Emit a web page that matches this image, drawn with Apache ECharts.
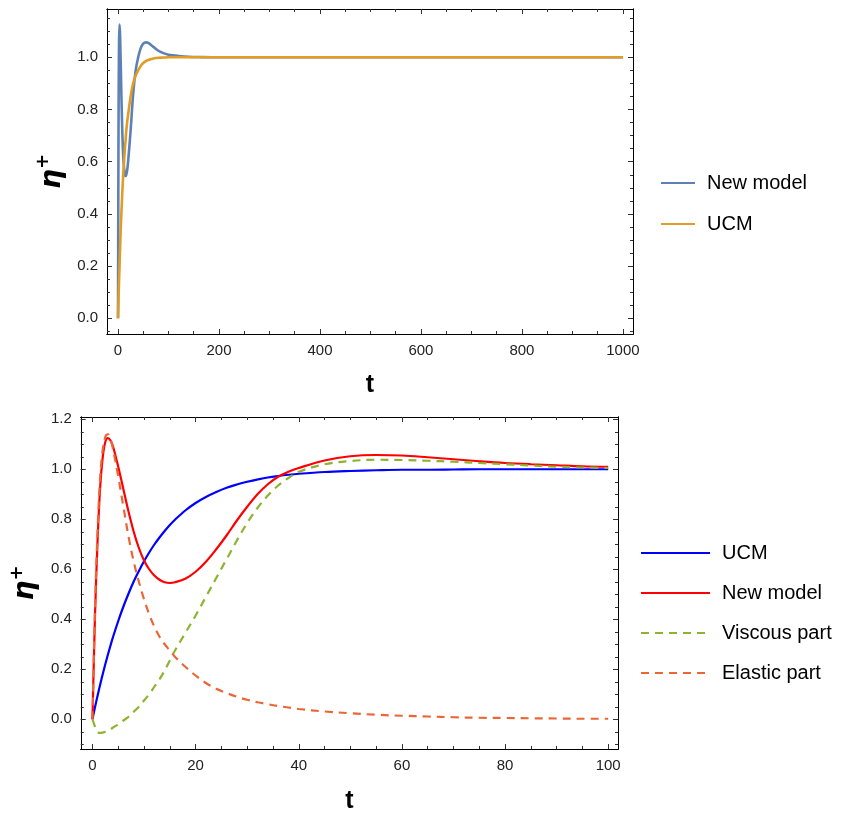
<!DOCTYPE html>
<html>
<head>
<meta charset="utf-8">
<script src="https://cdn.jsdelivr.net/npm/echarts@6/dist/echarts.min.js"></script>
<style>
  html, body { margin: 0; padding: 0; background: #fff; }
  #chart { width: 847px; height: 817px; }
</style>
</head>
<body>
<div id="chart"></div>
<script>
// 위쪽 패널 (t: 0 ~ 1000)
const tTop = [0, 1, 2, 3, 4, 5, 6, 8, 10, 12, 14, 15, 16, 18, 20, 25, 30, 35, 40, 45, 50, 55, 60, 70, 80, 90, 100, 120, 140, 160, 200, 400, 600, 800, 1000];
const newTop = [0, 0.72, 1.05, 1.125, 1.09, 1.01, 0.92, 0.75, 0.635, 0.575, 0.548, 0.545, 0.548, 0.565, 0.6, 0.72, 0.86, 0.95, 1.0, 1.035, 1.052, 1.057, 1.055, 1.04, 1.025, 1.016, 1.01, 1.005, 1.002, 1.001, 1.0, 1.0, 1.0, 1.0, 1.0];
const ucmTop = [0, 0.07, 0.14, 0.2, 0.26, 0.32, 0.37, 0.46, 0.54, 0.6, 0.66, 0.68, 0.71, 0.75, 0.78, 0.85, 0.9, 0.93, 0.95, 0.967, 0.978, 0.985, 0.99, 0.995, 0.998, 0.999, 1.0, 1.0, 1.0, 1.0, 1.0, 1.0, 1.0, 1.0, 1.0];

// 아래쪽 패널 (t: 0 ~ 100)
const tBot = [0, 0.5, 1, 1.5, 2, 2.5, 3, 3.5, 4, 5, 6, 7, 8, 9, 10, 11, 12, 13, 14, 15, 16, 18, 20, 22, 24, 26, 28, 30, 32, 34, 36, 38, 40, 45, 50, 55, 60, 65, 70, 75, 80, 85, 90, 95, 100];
const ucmBot = [0, 0.049, 0.095, 0.139, 0.181, 0.221, 0.259, 0.295, 0.33, 0.393, 0.451, 0.503, 0.551, 0.593, 0.632, 0.667, 0.699, 0.727, 0.753, 0.777, 0.798, 0.835, 0.865, 0.889, 0.909, 0.926, 0.939, 0.95, 0.959, 0.967, 0.973, 0.978, 0.982, 0.989, 0.993, 0.996, 0.998, 0.998, 0.999, 1.0, 1.0, 1.0, 1.0, 1.0, 1.0];
const newBot = [0, 0.42, 0.72, 0.93, 1.05, 1.11, 1.125, 1.115, 1.09, 1.01, 0.92, 0.83, 0.75, 0.685, 0.635, 0.6, 0.575, 0.558, 0.548, 0.545, 0.548, 0.562, 0.59, 0.63, 0.68, 0.735, 0.795, 0.85, 0.9, 0.94, 0.97, 0.99, 1.005, 1.035, 1.052, 1.057, 1.055, 1.048, 1.04, 1.032, 1.025, 1.02, 1.016, 1.012, 1.01];
const viscousBot = [0, -0.03, -0.05, -0.055, -0.053, -0.05, -0.045, -0.04, -0.033, -0.02, -0.005, 0.01, 0.03, 0.05, 0.075, 0.1, 0.13, 0.16, 0.195, 0.235, 0.275, 0.345, 0.415, 0.49, 0.565, 0.64, 0.715, 0.785, 0.845, 0.895, 0.935, 0.965, 0.99, 1.02, 1.033, 1.038, 1.037, 1.034, 1.03, 1.025, 1.02, 1.015, 1.01, 1.007, 1.005];
const elasticBot = [0, 0.45, 0.76, 0.97, 1.08, 1.13, 1.14, 1.12, 1.08, 0.97, 0.85, 0.73, 0.63, 0.55, 0.48, 0.42, 0.37, 0.33, 0.3, 0.275, 0.25, 0.21, 0.175, 0.145, 0.122, 0.105, 0.09, 0.078, 0.068, 0.06, 0.053, 0.047, 0.041, 0.031, 0.024, 0.018, 0.014, 0.011, 0.008, 0.006, 0.005, 0.004, 0.003, 0.002, 0.002];

// 눈금 라벨
const topXTicks = [0, 200, 400, 600, 800, 1000];
const topYTicks = [0, 0.2, 0.4, 0.6, 0.8, 1.0];
const botXTicks = [0, 20, 40, 60, 80, 100];
const botYTicks = [0, 0.2, 0.4, 0.6, 0.8, 1.0, 1.2];

function zip(xs, ys) {
    return xs.map((x, i) => [x, ys[i]]);
}

// 보조 눈금 위치
function minorTicks(min, max, step) {
    const out = [];
    const start = Math.ceil(min / step);
    for (let k = start; k * step <= max + 1e-9; k++) {
        out.push(+(k * step).toFixed(4));
    }
    return out;
}

const labelFont = { fontSize: 15, color: '#222', fontFamily: 'Liberation Sans' };

// 프레임 네 변을 축으로 만든다
function frameAxes(dim, grid, min, max, major, minor, fmt, name, nameGap) {
    const main = dim === 'x' ? 'bottom' : 'left';
    const opp = dim === 'x' ? 'top' : 'right';
    const base = (position, ticks, len, withLabel) => ({
        type: 'value',
        gridIndex: grid,
        position: position,
        min: min,
        max: max,
        splitLine: { show: false },
        axisLine: { show: true, onZero: false, lineStyle: { color: '#000', width: 1 } },
        axisTick: { show: true, inside: true, length: len, customValues: ticks, lineStyle: { color: '#333', width: 1 } },
        axisLabel: withLabel
            ? Object.assign({ show: true, customValues: major, formatter: fmt, margin: 9 }, labelFont)
            : { show: false }
    });
    const first = base(main, major, 5, true);
    first.name = name;
    first.nameLocation = 'middle';
    first.nameGap = nameGap;
    first.nameTextStyle = dim === 'x'
        ? { fontSize: 25, fontWeight: 'bold', color: '#000', fontFamily: 'Liberation Sans' }
        : {
            color: '#000',
            rich: {
                e: { fontSize: 28, fontWeight: 'bold', fontStyle: 'italic', fontFamily: 'DejaVu Sans', color: '#000' },
                p: { fontSize: 18, fontWeight: 'bold', fontFamily: 'DejaVu Sans', color: '#000', verticalAlign: 'top', lineHeight: 36 }
            }
        };
    return [first, base(main, minor, 3, false), base(opp, major, 5, false), base(opp, minor, 3, false)];
}

const xAxes = [].concat(
    frameAxes('x', 0, -21.8, 1020, topXTicks, minorTicks(-21.8, 1020, 50), v => String(v), 't', 39),
    frameAxes('x', 1, -2.27, 101.9, botXTicks, minorTicks(-2.27, 101.9, 5), v => String(v), 't', 40)
);
const yAxes = [].concat(
    frameAxes('y', 0, -0.06, 1.185, topYTicks, minorTicks(-0.06, 1.185, 0.05), v => v.toFixed(1), '{e|η}{p|+}', 35),
    frameAxes('y', 1, -0.119, 1.209, botYTicks, minorTicks(-0.119, 1.209, 0.05), v => v.toFixed(1), '{e|η}{p|+}', 33)
);

function line(name, data, color, xi, width, dashed) {
    return {
        name: name,
        type: 'line',
        xAxisIndex: xi,
        yAxisIndex: xi,
        data: data,
        symbol: 'none',
        smooth: 0.35,
        lineStyle: { color: color, width: width, type: dashed ? [8, 6] : 'solid' },
        itemStyle: { color: color },
        z: dashed ? 3 : 2
    };
}

const legendText = { fontSize: 20, color: '#000', fontFamily: 'Liberation Sans', padding: [0, 0, 0, 7] };

const option = {
    animation: false,
    backgroundColor: '#fff',
    grid: [
        { left: 107, top: 9, right: 214, bottom: 483 },
        { left: 80, top: 417, right: 229, bottom: 68 }
    ],
    xAxis: xAxes,
    yAxis: yAxes,
    legend: [
        {
            data: ['New model#1', 'UCM#1'],
            orient: 'vertical', left: 655, top: 168,
            itemWidth: 34, itemHeight: 10, itemGap: 21,
            itemStyle: { opacity: 0 },
            formatter: n => n.split('#')[0],
            textStyle: legendText
        },
        {
            data: ['UCM#2', 'New model#2', 'Viscous part', 'Elastic part'],
            orient: 'vertical', left: 635, top: 538,
            itemWidth: 69, itemHeight: 10, itemGap: 20,
            itemStyle: { opacity: 0 },
            formatter: n => n.split('#')[0],
            textStyle: legendText
        }
    ],
    series: [
        line('New model#1', zip(tTop, newTop), '#5E81B5', 0, 2.6, false),
        line('UCM#1', zip(tTop, ucmTop), '#E19C24', 0, 2.6, false),
        line('UCM#2', zip(tBot, ucmBot), '#0000FF', 4, 2.2, false),
        line('New model#2', zip(tBot, newBot), '#FF0000', 4, 2.2, false),
        line('Viscous part', zip(tBot, viscousBot), '#8DB32F', 4, 2.2, true),
        line('Elastic part', zip(tBot, elasticBot), '#EB6637', 4, 2.2, true)
    ]
};

const chart = echarts.init(document.getElementById('chart'));
chart.setOption(option);
</script>
</body>
</html>
